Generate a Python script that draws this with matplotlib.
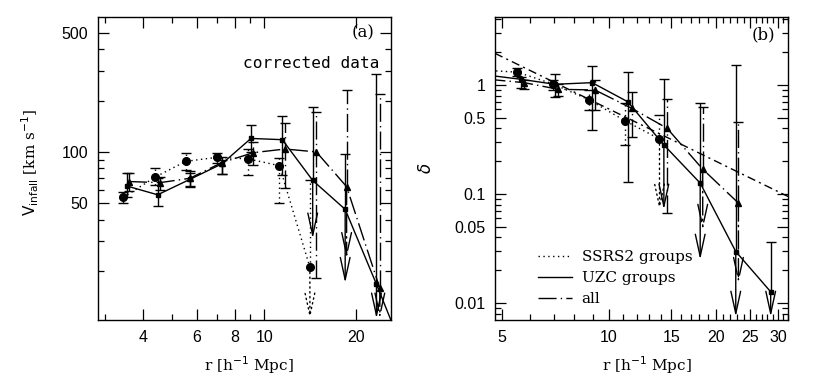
import numpy as np
import matplotlib
matplotlib.use("Agg")
import matplotlib.pyplot as plt
from matplotlib.lines import Line2D
from matplotlib.ticker import FixedLocator, FixedFormatter, NullFormatter

nan = np.nan

# panel (a): infall velocity [km/s] vs r
r_ssrs2_a = [3.45, 4.38, 5.52, 7.0, 8.86, 11.2, 14.1]
v_ssrs2 = [54, 71, 88, 93, 91, 83, 21]
v_ssrs2_hi = [58, 80, 98, 98, 104, 92, 68]
v_ssrs2_lo = [50, 64, 78, 86, 73, 50, 10.5]
v_ssrs2_lim = [0, 0, 0, 0, 0, 0, 1]

r_uzc_a = [3.55, 4.47, 5.7, 7.25, 9.04, 11.45, 14.4, 18.4, 23.3, 28.8]
v_uzc = [63, 56, 69, 85, 120, 118, 68, 46, 16.7, 6.5]
v_uzc_hi = [75, 70, 77, 93, 143, 163, 183, 97, 288, nan]
v_uzc_lo = [54, 48, 62.5, 74, 100, 73, 31, 17, 10.5, nan]
v_uzc_lim = [0, 0, 0, 0, 0, 0, 1, 1, 1, 0]

r_all_a = [3.6, 4.55, 5.7, 7.25, 9.2, 11.7, 14.8, 18.6, 23.9]
v_all = [67, 66, 70, 86.5, 99, 104, 100, 62.5, 15.8]
v_all_hi = [75, 71, 75, 90, 115, 147, 172, 232, 218]
v_all_lo = [59, 60, 63, 74, 84, 61, 18.2, 23.8, 10.5]
v_all_lim = [0, 0, 0, 0, 0, 0, 0, 1, 1]

# panel (b): overdensity delta vs r
r_ssrs2_b = [4.38, 5.53, 6.97, 8.81, 11.1, 13.9]
d_ssrs2 = [1.37, 1.31, 1.02, 0.73, 0.47, 0.32]
d_ssrs2_hi = [nan, 1.43, 1.11, 0.90, 0.684, 0.531]
d_ssrs2_lo = [nan, 1.21, 0.90, 0.59, 0.282, 0.072]
d_ssrs2_lim = [0, 0, 0, 0, 0, 1]

r_uzc_b = [4.47, 5.65, 7.05, 8.98, 11.3, 14.3, 18.1, 22.8, 28.6]
d_uzc = [1.24, 1.128, 1.015, 1.05, 0.703, 0.282, 0.126, 0.0297, 0.0127]
d_uzc_hi = [nan, 1.19, 1.25, 1.49, 1.307, 1.135, 0.68, 1.52, 0.0367]
d_uzc_lo = [nan, 0.93, 0.772, 0.387, 0.13, 0.072, 0.025, 0.0075, 0.0075]
d_uzc_lim = [0, 0, 0, 0, 0, 1, 1, 1, 1]

r_all_b = [4.55, 5.78, 7.2, 9.14, 11.6, 14.6, 18.4, 23.2]
d_all = [1.13, 1.05, 0.913, 0.9, 0.612, 0.401, 0.169, 0.0826]
d_all_hi = [nan, 1.11, 1.02, 1.11, 0.868, 0.74, 0.625, 0.461]
d_all_lo = [nan, 0.913, 0.80, 0.59, 0.336, 0.0677, 0.047, 0.0153]
d_all_lim = [0, 0, 0, 0, 0, 0, 1, 1]

# power-law model line in panel (b)
fit_r = [4.78, 32]
fit_d = [1.95, 0.095]

LS_SSRS2 = (0, (1, 2.5))
LS_UZC = "-"
LS_ALL = (0, (13, 3, 1, 3))
LS_FIT = (0, (6, 3, 1.5, 3))

TICK_FONT = "Liberation Sans"
LABEL_FONT = "DejaVu Serif"


def draw_series(ax, r, y, lo, hi, lim, marker, ms, ls):
    ax.plot(r, y, color="k", lw=1, ls=ls, marker=marker, ms=ms,
            mfc="k", mec="k")
    for xi, yi, l, h, is_lim in zip(r, y, lo, hi, lim):
        if np.isnan(h):
            continue
        bottom = yi if is_lim else l
        ax.vlines(xi, bottom, h, colors="k", lw=1, linestyles=[ls])
        ax.plot([xi], [h], marker="_", ms=7, mew=1, color="k")
        if is_lim:
            ax.annotate("", xy=(xi, l), xytext=(xi, yi),
                        arrowprops=dict(arrowstyle="->,head_length=1.6,head_width=0.35",
                                        lw=1, ls=ls, color="k",
                                        shrinkA=0, shrinkB=0))
        else:
            ax.plot([xi], [l], marker="_", ms=7, mew=1, color="k")


def style_axis(ax, xmaj, xmin, ymaj, ymin, ylabels):
    ax.xaxis.set_major_locator(FixedLocator(xmaj))
    ax.xaxis.set_major_formatter(FixedFormatter([f"{v:g}" for v in xmaj]))
    ax.xaxis.set_minor_locator(FixedLocator(xmin))
    ax.xaxis.set_minor_formatter(NullFormatter())
    ax.yaxis.set_major_locator(FixedLocator(ymaj))
    ax.yaxis.set_major_formatter(FixedFormatter(ylabels))
    ax.yaxis.set_minor_locator(FixedLocator(ymin))
    ax.yaxis.set_minor_formatter(NullFormatter())
    ax.tick_params(which="both", direction="in", top=True, right=True, width=0.9)
    ax.tick_params(which="major", length=8, pad=7, labelsize=11.5)
    ax.tick_params(which="minor", length=4)
    for lab in ax.get_xticklabels() + ax.get_yticklabels():
        lab.set_fontfamily(TICK_FONT)
    for sp in ax.spines.values():
        sp.set_linewidth(1.0)


fig = plt.figure(figsize=(8.3, 3.84), dpi=100)
ax1 = fig.add_axes([98 / 830, 64 / 384, 293 / 830, 303 / 384])
ax2 = fig.add_axes([495 / 830, 64 / 384, 293 / 830, 303 / 384])

# ---- panel (a)
ax1.set_xscale("log")
ax1.set_yscale("log")
draw_series(ax1, r_ssrs2_a, v_ssrs2, v_ssrs2_lo, v_ssrs2_hi, v_ssrs2_lim, "o", 5.5, LS_SSRS2)
draw_series(ax1, r_uzc_a, v_uzc, v_uzc_lo, v_uzc_hi, v_uzc_lim, "s", 3.5, LS_UZC)
draw_series(ax1, r_all_a, v_all, v_all_lo, v_all_hi, v_all_lim, "^", 4, LS_ALL)
ax1.set_xlim(2.85, 26)
ax1.set_ylim(10.3, 620)
style_axis(ax1, [4, 6, 8, 10, 20], [3, 5, 7, 9],
           [50, 100, 500], [20, 30, 40, 60, 70, 80, 90, 200, 300, 400],
           ["50", "100", "500"])
ax1.set_xlabel(r"r [h$^{-1}$ Mpc]", fontfamily=LABEL_FONT, fontsize=11)
ax1.set_ylabel(r"$\mathsf{V_{infall}}$ [km s$^{-1}$]", fontfamily=LABEL_FONT, fontsize=11)
ax1.xaxis.set_label_coords(0.515, -0.112)
ax1.yaxis.set_label_coords(-0.195, 0.52)
ax1.text(0.945, 0.947, "(a)", transform=ax1.transAxes, ha="right", va="center",
         fontfamily=LABEL_FONT, fontsize=12)
ax1.text(0.962, 0.848, "corrected data", transform=ax1.transAxes, ha="right", va="center",
         fontfamily="DejaVu Sans Mono", fontsize=11.6)

# ---- panel (b)
ax2.set_xscale("log")
ax2.set_yscale("log")
draw_series(ax2, r_ssrs2_b, d_ssrs2, d_ssrs2_lo, d_ssrs2_hi, d_ssrs2_lim, "o", 5.5, LS_SSRS2)
draw_series(ax2, r_uzc_b, d_uzc, d_uzc_lo, d_uzc_hi, d_uzc_lim, "s", 3.5, LS_UZC)
draw_series(ax2, r_all_b, d_all, d_all_lo, d_all_hi, d_all_lim, "^", 4, LS_ALL)
ax2.plot(fit_r, fit_d, color="k", lw=1, ls=LS_FIT)
ax2.set_xlim(4.78, 32)
ax2.set_ylim(0.007, 4.2)
xmin_b = [v for v in range(6, 33) if v % 5 != 0]
ymin_b = [0.008, 0.009, 0.02, 0.03, 0.04, 0.06, 0.07, 0.08, 0.09,
          0.2, 0.3, 0.4, 0.6, 0.7, 0.8, 0.9, 2, 3, 4]
style_axis(ax2, [5, 10, 15, 20, 25, 30], xmin_b,
           [0.01, 0.05, 0.1, 0.5, 1], ymin_b,
           ["0.01", "0.05", "0.1", "0.5", "1"])
ax2.set_xlabel(r"r [h$^{-1}$ Mpc]", fontfamily=LABEL_FONT, fontsize=11)
ax2.set_ylabel(r"$\delta$", fontsize=12)
ax2.xaxis.set_label_coords(0.519, -0.112)
ax2.yaxis.set_label_coords(-0.205, 0.50)
ax2.text(0.956, 0.94, "(b)", transform=ax2.transAxes, ha="right", va="center",
         fontfamily=LABEL_FONT, fontsize=12)

handles = [Line2D([], [], color="k", lw=1, ls=LS_SSRS2),
           Line2D([], [], color="k", lw=1, ls=LS_UZC),
           Line2D([], [], color="k", lw=1, ls=LS_ALL)]
ax2.legend(handles, ["SSRS2 groups", "UZC groups", "all"], loc="upper left",
           bbox_to_anchor=(0.147, 0.23), frameon=False, borderpad=0, borderaxespad=0,
           handlelength=2.2, handletextpad=0.65, labelspacing=0.45,
           prop={"family": LABEL_FONT, "size": 11})

fig.savefig("out.png", dpi=100, facecolor="white")
